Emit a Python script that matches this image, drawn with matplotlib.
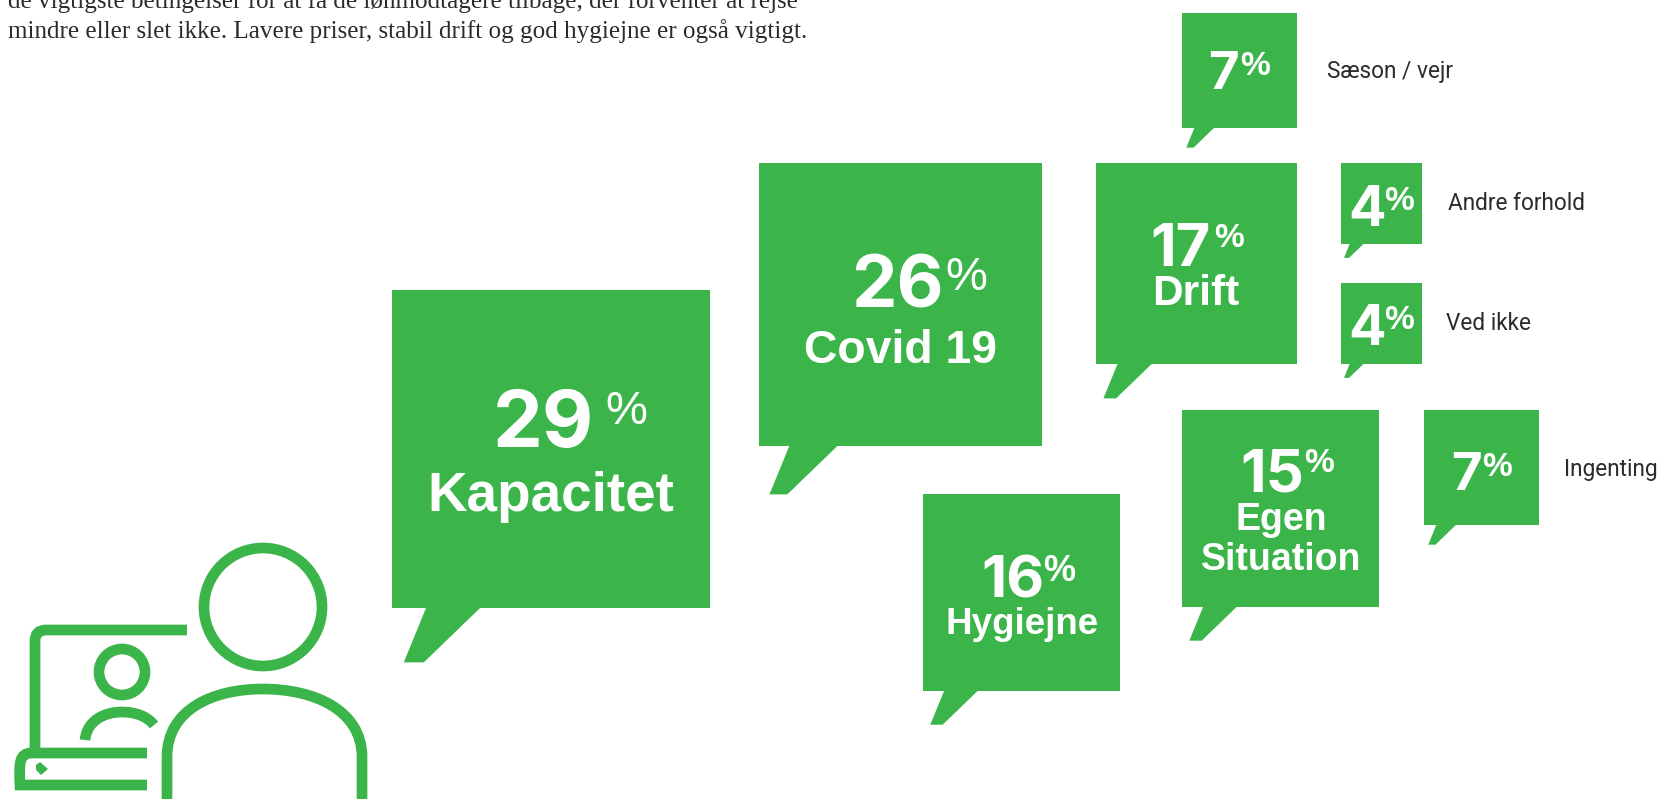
import matplotlib
matplotlib.use("Agg")
import matplotlib.pyplot as plt
from matplotlib.patches import Polygon, Circle, PathPatch
from matplotlib.path import Path

green = '#3bb54a'
dark = '#2b2b2b'

# Data
names = ['Kapacitet', 'Covid 19', 'Drift', 'Hygiejne', 'Egen\nSituation', 'Sæson / vejr', 'Andre forhold', 'Ved ikke', 'Ingenting']
values = [29, 26, 17, 16, 15, 7, 4, 4, 7]
intro = ['de vigtigste betingelser for at få de lønmodtagere tilbage, der forventer at rejse',
         'mindre eller slet ikke. Lavere priser, stabil drift og god hygiejne er også vigtigt.']

# Layout in pixels: speech bubbles
box_left = [392, 759, 1096, 923, 1182, 1182, 1341, 1341, 1424]
box_top = [290, 163, 163, 494, 410, 13, 163, 283, 410]
box_side = [318, 283, 201, 197, 197, 115, 81, 81, 115]

# Numbers inside the bubbles
num_left = [493, 851, 1150, 981, 1240, 1208, 1348, 1348, 1451]
num_base = [447, 308, 266, 597, 491, 89, 226, 345, 490]
num_size = [57, 52, 43, 42, 43, 38, 40, 40, 38]
pct_left = [605, 945, 1214, 1043, 1304, 1240, 1384, 1384, 1482]
pct_size = [34, 34, 24, 26, 24, 24, 24, 24, 24]

# Names inside the bubbles (None = name stands beside the bubble)
name_x = [551, 900, 1196, 1022, 1281, None, None, None, None]
name_base = [511, 363, 305, 634, 530, None, None, None, None]
name_size = [39.5, 33.4, 30.5, 26.5, 27, None, None, None, None]

# Names beside the bubbles
side_x = [None, None, None, None, None, 1327, 1448, 1446, 1564]
side_base = [None, None, None, None, None, 78, 210, 330, 476]

fig = plt.figure(figsize=(16.62, 7.99), dpi=100)
ax = fig.add_axes([0, 0, 1, 1])
ax.set_xlim(0, 1662)
ax.set_ylim(799, 0)
ax.axis('off')

px = 72 / 100  # points per pixel

# Intro text, first line is cut by the top edge
ax.text(8, 8, intro[0], family='Liberation Serif', fontsize=18.1, color=dark, va='baseline')
ax.text(8, 38, intro[1], family='Liberation Serif', fontsize=18.1, color=dark, va='baseline')

for i in range(len(names)):
    l = box_left[i]
    t = box_top[i]
    s = box_side[i]
    b = t + s
    shape = [(l, t), (l + s, t), (l + s, b), (l + 0.277 * s, b), (l + 0.1 * s, b + 0.171 * s),
             (l + 0.037 * s, b + 0.171 * s), (l + 0.107 * s, b), (l, b)]
    ax.add_patch(Polygon(shape, closed=True, facecolor=green, edgecolor='none'))

    ax.text(num_left[i], num_base[i], str(values[i]), family='Inter', fontweight='bold',
            fontsize=num_size[i], color='white', va='baseline', ha='left')
    pct_base = num_base[i] - 0.72 * (num_size[i] - pct_size[i]) / px
    ax.text(pct_left[i], pct_base, '%', family='Liberation Sans', fontsize=pct_size[i],
            fontweight='bold' if num_size[i] < 45 else 'normal', color='white', va='baseline', ha='left')

    if name_x[i] is not None:
        for j, line in enumerate(names[i].split('\n')):
            ax.text(name_x[i], name_base[i] + 40 * j, line, family='Liberation Sans', fontweight='bold',
                    fontsize=name_size[i], color='white', va='baseline', ha='center')
    else:
        ax.text(side_x[i], side_base[i], names[i], family='Roboto',
                fontsize=16.3, color=dark, va='baseline', ha='left')

# Icon: person in front of a laptop
lw = 10.7 * px
ax.add_patch(Circle((263, 607), 59, facecolor='none', edgecolor=green, lw=lw))
ax.add_patch(Circle((122, 672), 23, facecolor='none', edgecolor=green, lw=lw))

big_body = Path([(167, 799), (167, 757), (167, 710), (212, 689), (263, 689), (314, 689), (362, 710), (362, 757), (362, 799)],
                [1, 2, 4, 4, 4, 4, 4, 4, 2])
small_body = Path([(85, 740), (87, 720), (105, 712), (122, 712), (135, 712), (147, 716), (154, 725)],
                  [1, 4, 4, 4, 4, 4, 4])
screen = Path([(187, 630), (46, 630), (35, 630), (35, 641), (35, 748)], [1, 2, 3, 3, 2])
base = Path([(147, 753), (32, 753), (19, 753), (19, 763), (20, 785), (25, 785), (37, 785), (147, 785)],
            [1, 2, 4, 4, 4, 4, 4, 2])
for path in [big_body, small_body, screen, base]:
    ax.add_patch(PathPatch(path, facecolor='none', edgecolor=green, lw=lw, capstyle='butt'))
ax.add_patch(Polygon([(36, 765), (40, 762), (48, 769), (41, 775), (36, 770)], closed=True, facecolor=green, edgecolor='none'))

fig.savefig('out.png', dpi=100)
